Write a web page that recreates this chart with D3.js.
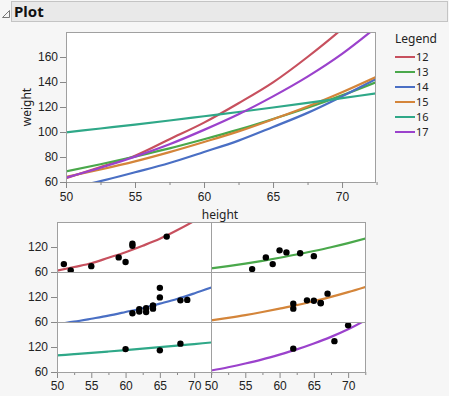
<!DOCTYPE html>
<html>
<head>
<meta charset="utf-8">
<script src="https://cdn.jsdelivr.net/npm/d3@7"></script>
<style>
  body { margin: 0; background: #f6f6f6; }
  svg { display: block; font-family: "Noto Sans", "Open Sans", sans-serif; }
</style>
</head>
<body>
<svg id="chart" width="449" height="396"></svg>
<script>
// ages shown in the legend and the facets
const ages = [12, 13, 14, 15, 16, 17];
const colors = [`#c7505e`, `#4aa84b`, `#4a6fc4`, `#d4853a`, `#2fa888`, `#9b42cc`];

// fitted curves, at these heights
const fitHeights = [50, 52.5, 55, 57.5, 60, 62.5, 65, 67.5, 70, 72.5];
const fit12 = [63, 72, 81, 94.2, 107.5, 123, 139.7, 160, 182.5, 208];
const fit13 = [68.5, 74.2, 80.3, 86.9, 94.2, 101.9, 110.4, 119.4, 129.3, 140];
const fit14 = [54.6, 60.7, 67.8, 75.2, 84, 93.1, 104, 115.3, 128.5, 142.6];
const fit15 = [64, 70, 76.5, 83.9, 92, 100.5, 110.2, 120.4, 131.8, 144.2];
const fit16 = [99.7, 102.8, 105.9, 109.2, 112.6, 116, 119.6, 123.3, 127.1, 130.9];
const fit17 = [63.5, 71.4, 80.3, 90.2, 101.7, 114.2, 128.5, 144.3, 162.5, 184];
const fits = [fit12, fit13, fit14, fit15, fit16, fit17];

// points per age: [height, weight]
const pts12 = [[59, 95], [61, 123], [55, 74], [66, 145], [52, 64], [60, 84], [61, 128], [51, 79]];
const pts13 = [[60, 112], [61, 107], [56, 67], [65, 98], [63, 105], [58, 95], [59, 79]];
const pts14 = [[61, 81], [62, 91], [65, 142], [63, 84], [62, 85], [63, 93], [64, 99], [65, 119], [64, 92], [68, 112], [64, 99], [69, 113]];
const pts15 = [[62, 92], [64, 112], [67, 128], [65, 111], [66, 105], [62, 104], [66, 106]];
const pts16 = [[65, 112], [60, 115], [68, 128]];
const pts17 = [[62, 116], [68, 134], [70, 172]];
const points = [pts12, pts13, pts14, pts15, pts16, pts17];

const xTicks = [50, 55, 60, 65, 70];
const xMinor = [52.5, 57.5, 62.5, 67.5, 72.5];
const yTicksTop = [60, 80, 100, 120, 140, 160];
const yTicksSmall = [60, 120];

const svg = d3.select(`#chart`);

// header
svg.append(`rect`).attr(`x`, 11.5).attr(`y`, 1.5).attr(`width`, 436).attr(`height`, 20)
  .attr(`fill`, `#e9e9e9`).attr(`stroke`, `#c4c4c4`);
svg.append(`path`).attr(`d`, `M2.5,17.5 L9.5,10.5 L9.5,17.5 Z`)
  .attr(`fill`, `none`).attr(`stroke`, `#777`);
svg.append(`text`).attr(`x`, 14).attr(`y`, 17).text(`Plot`)
  .style(`font-weight`, `bold`).style(`font-size`, `15px`).attr(`fill`, `#111`);

const line = (x, y) => d3.line()
  .x((d, i) => x(fitHeights[i]))
  .y(d => y(d))
  .curve(d3.curveMonotoneX);

const styleAxis = g => {
  g.select(`.domain`).remove();
  g.selectAll(`line`).attr(`stroke`, `#888`);
  g.selectAll(`text`).style(`font-size`, `12px`).attr(`fill`, `#222`);
};

// top plot
const main = { l: 66, t: 32, r: 376, b: 182 };
const x = d3.scaleLinear().domain([50, 72.46]).range([main.l, main.r]);
const y = d3.scaleLinear().domain([60, 180]).range([main.b, main.t]);

svg.append(`clipPath`).attr(`id`, `clipMain`).append(`rect`)
  .attr(`x`, main.l).attr(`y`, main.t).attr(`width`, main.r - main.l).attr(`height`, main.b - main.t);
svg.append(`rect`).attr(`x`, main.l).attr(`y`, main.t).attr(`width`, main.r - main.l).attr(`height`, main.b - main.t)
  .attr(`fill`, `#fff`);

svg.append(`g`).attr(`clip-path`, `url(#clipMain)`)
  .selectAll(`path`).data(fits).join(`path`)
  .attr(`d`, line(x, y))
  .attr(`fill`, `none`)
  .attr(`stroke`, (d, i) => colors[i])
  .attr(`stroke-width`, 2.2);

svg.append(`rect`).attr(`x`, main.l + 0.5).attr(`y`, main.t + 0.5).attr(`width`, main.r - main.l - 1).attr(`height`, main.b - main.t)
  .attr(`fill`, `none`).attr(`stroke`, `#a0a0a0`);

svg.append(`g`).attr(`transform`, `translate(0,${main.b})`)
  .call(d3.axisBottom(x).tickValues(xTicks).tickSize(6).tickPadding(4))
  .call(styleAxis);
svg.append(`g`).attr(`transform`, `translate(0,${main.b})`)
  .call(d3.axisBottom(x).tickValues(xMinor).tickSize(3).tickFormat(``))
  .call(styleAxis);
svg.append(`g`).attr(`transform`, `translate(${main.l},0)`)
  .call(d3.axisLeft(y).tickValues(yTicksTop).tickSize(6).tickPadding(2))
  .call(styleAxis);

svg.append(`text`).attr(`transform`, `translate(31,${(main.t + main.b) / 2}) rotate(-90)`)
  .attr(`text-anchor`, `middle`).style(`font-size`, `12px`).attr(`fill`, `#222`).text(`weight`);
svg.append(`text`).attr(`x`, 220).attr(`y`, 219)
  .attr(`text-anchor`, `middle`).style(`font-size`, `12px`).attr(`fill`, `#222`).text(`height`);

// legend
const legend = svg.append(`g`);
legend.append(`text`).attr(`x`, 395).attr(`y`, 43).style(`font-size`, `12px`).attr(`fill`, `#222`).text(`Legend`);
const items = legend.selectAll(`g`).data(ages).join(`g`)
  .attr(`transform`, (d, i) => `translate(395,${57 + i * 15})`);
items.append(`line`).attr(`x1`, 0).attr(`x2`, 20)
  .attr(`stroke`, (d, i) => colors[i]).attr(`stroke-width`, 2);
items.append(`text`).attr(`x`, 21).attr(`dy`, `0.36em`)
  .style(`font-size`, `11px`).attr(`fill`, `#222`).text(d => d);

// facet grid
const grid = { l: 57, t: 222, w: 154, h: 50 };
ages.forEach((age, i) => {
  const col = i % 2;
  const row = Math.floor(i / 2);
  const x0 = grid.l + col * grid.w;
  const y0 = grid.t + row * grid.h;
  const fx = d3.scaleLinear().domain([50, 72.46]).range([x0, x0 + grid.w]);
  const fy = d3.scaleLinear().domain([60, 180]).range([y0 + grid.h, y0]);
  const id = `clip${age}`;

  svg.append(`clipPath`).attr(`id`, id).append(`rect`)
    .attr(`x`, x0).attr(`y`, y0).attr(`width`, grid.w).attr(`height`, grid.h);
  svg.append(`rect`).attr(`x`, x0).attr(`y`, y0).attr(`width`, grid.w).attr(`height`, grid.h)
    .attr(`fill`, `#fff`);

  const g = svg.append(`g`).attr(`clip-path`, `url(#${id})`);
  g.append(`path`).datum(fits[i])
    .attr(`d`, line(fx, fy))
    .attr(`fill`, `none`).attr(`stroke`, colors[i]).attr(`stroke-width`, 2.2);

  svg.append(`g`).selectAll(`circle`).data(points[i]).join(`circle`)
    .attr(`cx`, d => fx(d[0])).attr(`cy`, d => fy(d[1])).attr(`r`, 3.2)
    .attr(`fill`, `#000`);

  if (col === 0) {
    svg.append(`g`).attr(`transform`, `translate(${x0},0)`)
      .call(d3.axisLeft(fy).tickValues(yTicksSmall).tickSize(6).tickPadding(3))
      .call(styleAxis);
  }
  if (row === 2) {
    svg.append(`g`).attr(`transform`, `translate(0,${y0 + grid.h})`)
      .call(d3.axisBottom(fx).tickValues(xTicks).tickSize(6).tickPadding(3))
      .call(styleAxis);
    svg.append(`g`).attr(`transform`, `translate(0,${y0 + grid.h})`)
      .call(d3.axisBottom(fx).tickValues(xMinor).tickSize(3).tickFormat(``))
      .call(styleAxis);
  }
});

// facet borders
svg.append(`g`).selectAll(`rect`).data(ages).join(`rect`)
  .attr(`x`, (d, i) => grid.l + (i % 2) * grid.w + 0.5)
  .attr(`y`, (d, i) => grid.t + Math.floor(i / 2) * grid.h + 0.5)
  .attr(`width`, grid.w)
  .attr(`height`, grid.h)
  .attr(`fill`, `none`).attr(`stroke`, `#a0a0a0`);
</script>
</body>
</html>
